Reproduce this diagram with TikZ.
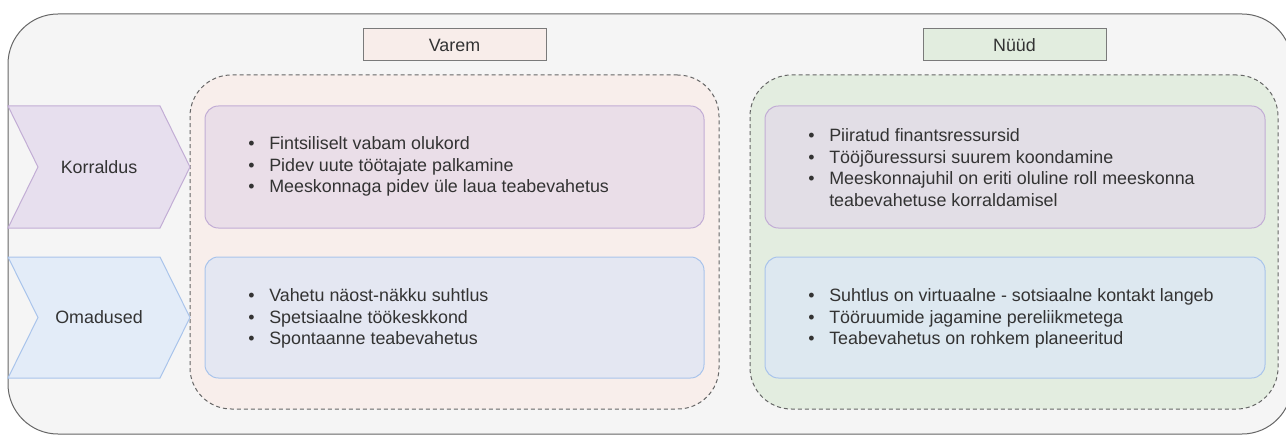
\documentclass[tikz,border=0pt]{standalone}
\usepackage{fontspec}
\setmainfont{Liberation Sans}
\definecolor{txt}{HTML}{333333}
\definecolor{framefill}{HTML}{F5F5F5}
\definecolor{framedraw}{HTML}{666666}
\definecolor{oldfill}{HTML}{F8EDEA}
\definecolor{oldpanel}{HTML}{F8EEEB}
\definecolor{newfill}{HTML}{E2EDDF}
\definecolor{newpanel}{HTML}{E3EDE0}
\definecolor{titledraw}{HTML}{7A7A7A}
\definecolor{purpfill}{HTML}{E7DFEE}
\definecolor{purpdraw}{HTML}{C2ADD5}
\definecolor{bluefill}{HTML}{E3ECF8}
\definecolor{bluedraw}{HTML}{A9C4EB}
\definecolor{oldpurp}{HTML}{EADEE8}
\definecolor{oldblue}{HTML}{E4E7F2}
\definecolor{newpurp}{HTML}{E2DEE6}
\definecolor{newblue}{HTML}{DDE8F0}
\begin{document}
\begin{tikzpicture}[x=0.75pt,y=-0.75pt,
  every node/.style={text=txt, font=\fontsize{13.4pt}{16.3pt}\selectfont, inner sep=0pt},
  frame/.style={draw=framedraw, fill=framefill, line width=0.75pt, rounded corners=37.5pt},
  titlebox/.style={draw=titledraw, line width=0.75pt, minimum width=137.25pt, minimum height=24pt},
  panel/.style={draw=framedraw, line width=0.75pt, dash pattern=on 3pt off 2.25pt, rounded corners=31pt, minimum height=250.5pt},
  itembox/.style={line width=0.75pt, rounded corners=10pt},
  chev/.style={line width=0.75pt},
  items/.style={anchor=west, align=left}]
\useasboundingbox (0,0) rectangle (1286,435);

% outer frame
\node[frame, minimum width=963pt, minimum height=315pt] (frame) at (650,224) {};

% period panels
\node[panel, fill=oldpanel, minimum width=396.75pt] (oldpanel) at (454.5,242) {};
\node[panel, fill=newpanel, minimum width=396pt] (newpanel) at (1014,242) {};

% period titles
\node[titlebox, fill=oldfill] (varem) at (454.5,45) {Varem};
\node[titlebox, fill=newfill] (nuud) at (1014.5,45) {Nüüd};

% content boxes
\node[itembox, draw=purpdraw, fill=oldpurp, minimum width=374.25pt, minimum height=91.5pt] (oldorg) at (454.5,167) {};
\node[itembox, draw=bluedraw, fill=oldblue, minimum width=374.25pt, minimum height=90.75pt] (oldprop) at (454.5,317.5) {};
\node[itembox, draw=purpdraw, fill=newpurp, minimum width=375pt, minimum height=91.5pt] (neworg) at (1015,167) {};
\node[itembox, draw=bluedraw, fill=newblue, minimum width=375pt, minimum height=90.75pt] (newprop) at (1015,317.5) {};

% row headers
\draw[chev, draw=purpdraw, fill=purpfill] (8,106) -- (160,106) -- (190,167) -- (160,228) -- (8,228) -- (38,167) -- cycle;
\node (korraldus) at (99,167) {Korraldus};
\draw[chev, draw=bluedraw, fill=bluefill] (8,257) -- (160,257) -- (190,317.5) -- (160,378) -- (8,378) -- (38,317.5) -- cycle;
\node (omadused) at (99,317.5) {Omadused};

% bullet lists
\newcommand{\bul}{\makebox[15.75pt][l]{•}}
\node[items] (t1) at (248,166.5) {\bul Fintsiliselt vabam olukord\\\bul Pidev uute töötajate palkamine\\\bul Meeskonnaga pidev üle laua teabevahetus};
\node[items] (t2) at (248,318.5) {\bul Vahetu näost-näkku suhtlus\\\bul Spetsiaalne töökeskkond\\\bul Spontaanne teabevahetus};
\node[items] (t3) at (808,167.5) {\bul Piiratud finantsressursid\\\bul Tööjõuressursi suurem koondamine\\\bul Meeskonnajuhil on eriti oluline roll meeskonna\\\hspace*{15.75pt}teabevahetuse korraldamisel};
\node[items] (t4) at (808,318.5) {\bul Suhtlus on virtuaalne - sotsiaalne kontakt langeb\\\bul Tööruumide jagamine pereliikmetega\\\bul Teabevahetus on rohkem planeeritud};
\end{tikzpicture}
\end{document}
